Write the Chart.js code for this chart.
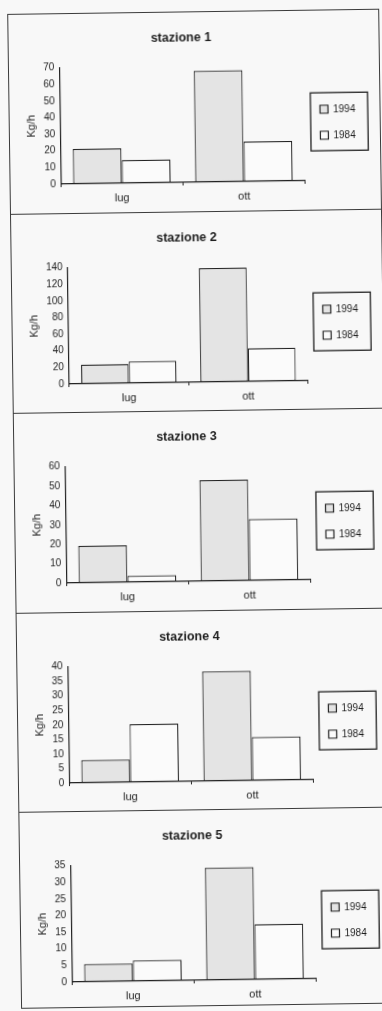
<!DOCTYPE html>
<html>
<head>
<meta charset="utf-8">
<script src="https://cdn.jsdelivr.net/npm/chart.js@4/dist/chart.umd.min.js"></script>
<style>
html, body { margin: 0; padding: 0; background: #f8f8f8; }
body { width: 382px; height: 1011px; overflow: hidden; position: relative; }
#page { position: absolute; left: 0; top: 0; width: 382px; height: 1011px;
        transform: rotate(-0.8deg); transform-origin: 0 0; filter: blur(0.3px); }
.panel { position: absolute; left: 7px; width: 372px; box-sizing: border-box;
         border: 1.5px solid #3a3a3a; border-bottom: none; }
.panel.last { border-bottom: 1.5px solid #3a3a3a; }
canvas { position: absolute; left: 7px; }
</style>
</head>
<body>
<div id="page"></div>
<script>
// values, Kg/h
var categories = ["lug", "ott"];
var stations = ["stazione 1", "stazione 2", "stazione 3", "stazione 4", "stazione 5"];
var seriesNames = ["1994", "1984"];
var values1994 = [[21, 67], [23, 137], [19, 52], [7.8, 37.7], [5.3, 33.8]];
var values1984 = [[14, 24], [26, 40], [3.3, 31.7], [19.9, 14.9], [6.2, 16.6]];
var yMax = [70, 140, 60, 40, 35];
var yStep = [10, 20, 10, 5, 5];

Chart.defaults.font.family = '"Liberation Sans", Arial, sans-serif';
Chart.defaults.color = "#1e1e1e";

var INK = "#222";
var PANEL_H = 199.6;

// box around the legend, Excel style
var legendFrame = {
    id: "legendFrame",
    afterDraw: function(chart) {
        var boxes = chart.legend && chart.legend.legendHitBoxes;
        if (!boxes || !boxes.length) return;
        var first = boxes[0], last = boxes[boxes.length - 1];
        var right = 0;
        boxes.forEach(function(b) { right = Math.max(right, b.left + b.width); });
        var x0 = first.left - 9.5, y0 = first.top + first.height / 2 - 16.5;
        var x1 = right + 12.5, y1 = last.top + last.height / 2 + 15.5;
        var ctx = chart.ctx;
        ctx.save();
        ctx.strokeStyle = INK;
        ctx.lineWidth = 1.3;
        ctx.strokeRect(x0, y0, x1 - x0, y1 - y0);
        ctx.restore();
    }
};

var page = document.getElementById("page");

stations.forEach(function(name, i) {
    var top = 14 + PANEL_H * i;
    var last = i === stations.length - 1;

    var panel = document.createElement("div");
    panel.className = last ? "panel last" : "panel";
    panel.style.top = top + "px";
    panel.style.height = (last ? 197 : PANEL_H) + "px";
    page.appendChild(panel);

    var canvas = document.createElement("canvas");
    canvas.width = 372;
    canvas.height = 200;
    canvas.style.top = top + "px";
    page.appendChild(canvas);

    new Chart(canvas, {
        type: "bar",
        data: {
            labels: categories,
            datasets: [{
                label: seriesNames[0],
                data: values1994[i],
                backgroundColor: "#e4e4e4",
                borderColor: INK,
                borderWidth: 1.2,
                borderSkipped: false
            }, {
                label: seriesNames[1],
                data: values1984[i],
                backgroundColor: "#fbfbfb",
                borderColor: INK,
                borderWidth: 1.2,
                borderSkipped: false
            }]
        },
        options: {
            responsive: false,
            devicePixelRatio: 1,
            animation: false,
            layout: { padding: { top: 19, left: 16, right: 15.3, bottom: 2.8 } },
            datasets: { bar: { categoryPercentage: 0.8, barPercentage: 1 } },
            plugins: {
                title: {
                    display: true,
                    text: name,
                    fullSize: false,
                    font: { size: 12.5, weight: "bold" },
                    padding: { top: 0, bottom: 20.5 }
                },
                legend: {
                    position: "right",
                    fullSize: false,
                    labels: {
                        boxWidth: 8,
                        boxHeight: 8,
                        padding: 16,
                        font: { size: 10 }
                    }
                },
                tooltip: { enabled: false }
            },
            scales: {
                x: {
                    ticks: { font: { size: 11 }, padding: 5 },
                    grid: { display: true, drawOnChartArea: false, drawTicks: true, tickLength: 3, color: INK },
                    border: { display: true, color: INK, width: 1.2 }
                },
                y: {
                    min: 0,
                    max: yMax[i],
                    ticks: { stepSize: yStep[i], autoSkip: false, font: { size: 10 }, padding: 5 },
                    grid: { display: false, drawTicks: false },
                    border: { display: true, color: INK, width: 1.2 },
                    title: {
                        display: true,
                        text: "Kg/h",
                        font: { size: 11 },
                        padding: { top: 0, bottom: 1 }
                    }
                }
            }
        },
        plugins: [legendFrame]
    });
});
</script>
</body>
</html>
